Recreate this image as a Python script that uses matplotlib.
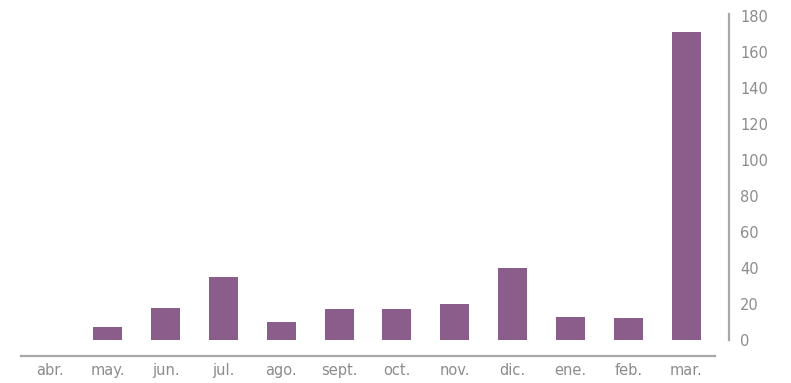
import matplotlib
matplotlib.use("Agg")
import matplotlib.pyplot as plt

months = ["abr.", "may.", "jun.", "jul.", "ago.", "sept.", "oct.", "nov.", "dic.", "ene.", "feb.", "mar."]
values = [0, 7, 18, 35, 10, 17, 17, 20, 40, 13, 12, 171]
y_ticks = [0, 20, 40, 60, 80, 100, 120, 140, 160, 180]

bar_color = "#8a5d8a"
text_color = "#8c8c8c"
axis_color = "#a8a8a8"

fig = plt.figure(figsize=(7.91, 3.83), dpi=100)
ax = fig.add_axes([21 / 791, (383 - 340) / 383, (715 - 21) / 791, (340 - 16) / 383])

x = list(range(len(months)))
ax.bar(x, values, width=0.5, color=bar_color, edgecolor="none")

ax.set_xlim(-0.5, len(months) - 0.5)
ax.set_ylim(0, 180)

for side in ("top", "left"):
    ax.spines[side].set_visible(False)
ax.spines["bottom"].set_position(("outward", 11.5))
ax.spines["bottom"].set_color(axis_color)
ax.spines["bottom"].set_linewidth(1.6)
ax.spines["right"].set_position(("outward", 10))
ax.spines["right"].set_color(axis_color)
ax.spines["right"].set_linewidth(1.6)
ax.spines["right"].set_bounds(0, 181)

ax.yaxis.tick_right()
ax.set_yticks(y_ticks)
ax.set_yticklabels([str(v) for v in y_ticks])
ax.set_xticks(x)
ax.set_xticklabels(months)
ax.tick_params(axis="y", length=0, pad=8, labelsize=10.5, labelcolor=text_color)
ax.tick_params(axis="x", length=0, pad=5, labelsize=10.5, labelcolor=text_color)

fig.savefig("out.png", dpi=100)
